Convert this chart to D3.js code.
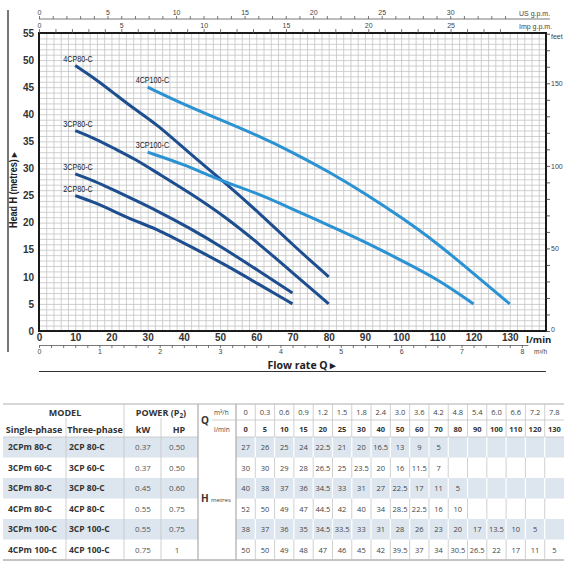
<!DOCTYPE html>
<html>
<head>
<meta charset="utf-8">
<script src="https://cdn.jsdelivr.net/npm/d3@7"></script>
<style>
  html, body { margin: 0; padding: 0; background: #fff; }
  svg { display: block; }
</style>
</head>
<body>
<svg id="chart" width="568" height="568"></svg>
<script>
// ---------------- DATA ----------------
const flowLmin = [0, 5, 10, 15, 20, 25, 30, 40, 50, 60, 70, 80, 90, 100, 110, 120, 130];
const flowM3h = ["0", "0.3", "0.6", "0.9", "1.2", "1.5", "1.8", "2.4", "3.0", "3.6", "4.2", "4.8", "5.4", "6.0", "6.6", "7.2", "7.8"];

const singlePhase = ["2CPm 80-C", "3CPm 60-C", "3CPm 80-C", "4CPm 80-C", "3CPm 100-C", "4CPm 100-C"];
const threePhase  = ["2CP 80-C", "3CP 60-C", "3CP 80-C", "4CP 80-C", "3CP 100-C", "4CP 100-C"];
const powerKW = ["0.37", "0.37", "0.45", "0.55", "0.55", "0.75"];
const powerHP = ["0.50", "0.50", "0.60", "0.75", "0.75", "1"];

const head2CP80  = [27, 26, 25, 24, 22.5, 21, 20, 16.5, 13, 9, 5];
const head3CP60  = [30, 30, 29, 28, 26.5, 25, 23.5, 20, 16, 11.5, 7];
const head3CP80  = [40, 38, 37, 36, 34.5, 33, 31, 27, 22.5, 17, 11, 5];
const head4CP80  = [52, 50, 49, 47, 44.5, 42, 40, 34, 28.5, 22.5, 16, 10];
const head3CP100 = [38, 37, 36, 35, 34.5, 33.5, 33, 31, 28, 26, 23, 20, 17, 13.5, 10, 5];
const head4CP100 = [50, 50, 49, 48, 47, 46, 45, 42, 39.5, 37, 34, 30.5, 26.5, 22, 17, 11, 5];
const headRows = [head2CP80, head3CP60, head3CP80, head4CP80, head3CP100, head4CP100];

const curveNames = ["2CP80-C", "3CP60-C", "3CP80-C", "4CP80-C", "3CP100-C", "4CP100-C"];
const curveFromQ = [10, 10, 10, 10, 30, 30];
const curveFamily = ["80", "80", "80", "80", "100", "100"];

const headTicks = [0, 5, 10, 15, 20, 25, 30, 35, 40, 45, 50, 55];
const flowTicks = [0, 10, 20, 30, 40, 50, 60, 70, 80, 90, 100, 110, 120, 130];
const m3hTicks = [0, 1, 2, 3, 4, 5, 6, 7, 8];
const usTicks = [0, 5, 10, 15, 20, 25, 30];
const impTicks = [0, 5, 10, 15, 20, 25];
const feetTicks = [0, 50, 100, 150];

// ---------------- SETUP ----------------
const svg = d3.select("#chart");
svg.append("rect").attr("width", 568).attr("height", 568).attr("fill", "#fff");

const NARROW = "'Liberation Sans Narrow','Arial Narrow','Liberation Sans',Arial,sans-serif";
const HUMAN = "'Open Sans','Noto Sans',sans-serif";

const x = d3.scaleLinear().domain([0, 140]).range([39, 546]);
const y = d3.scaleLinear().domain([0, 55]).range([331, 33]);
const plotW = x(140) - x(0), plotH = y(0) - y(55);

// grid
const gridX = svg.append("g").attr("transform", `translate(0,${y(0)})`)
  .call(d3.axisBottom(x).tickValues(d3.range(0, 141, 2)).tickSize(-plotH).tickFormat(""));
const gridY = svg.append("g").attr("transform", `translate(${x(0)},0)`)
  .call(d3.axisLeft(y).tickValues(d3.range(0, 56, 1)).tickSize(-plotW).tickFormat(""));
[gridX, gridY].forEach(g => {
  g.select(".domain").remove();
  g.selectAll("line").attr("stroke", "#c4c4c4").attr("stroke-width", 0.8);
});

// frame
svg.append("rect").attr("x", x(0)).attr("y", y(55)).attr("width", plotW).attr("height", plotH)
  .attr("fill", "none").attr("stroke", "#1a1a1a").attr("stroke-width", 2);

// left axis labels
const yAx = svg.append("g").attr("transform", `translate(${x(0)},0)`)
  .call(d3.axisLeft(y).tickValues(headTicks).tickSize(0).tickPadding(5));
yAx.select(".domain").remove();
yAx.selectAll("text").attr("font-family", NARROW).attr("font-size", 10).attr("font-weight", "bold").attr("fill", "#333");

// bottom l/min labels
const xAx = svg.append("g").attr("transform", `translate(0,${y(0)})`)
  .call(d3.axisBottom(x).tickValues(flowTicks).tickSize(0).tickPadding(3));
xAx.select(".domain").remove();
xAx.selectAll("text").attr("font-family", NARROW).attr("font-size", 10).attr("font-weight", "bold").attr("fill", "#333");
svg.append("text").attr("x", 526).attr("y", 343).text("l/min")
  .attr("font-family", HUMAN).attr("font-size", 9.5).attr("font-weight", "bold").attr("fill", "#222");

// m3/h axis
const LMIN_PER_M3H = 1000 / 60;
const xm = d3.scaleLinear().domain([0, 8.1]).range([x(0), x(8.1 * LMIN_PER_M3H)]);
const mAx = svg.append("g").attr("transform", "translate(0,345)")
  .call(d3.axisBottom(xm).tickValues(d3.range(0, 8.01, 0.2)).tickSize(3).tickSizeOuter(0).tickPadding(1)
    .tickFormat(d => m3hTicks.some(t => Math.abs(t - d) < 1e-6) ? d3.format("d")(Math.round(d)) : ""));
mAx.selectAll("line,path").attr("stroke", "#555").attr("stroke-width", 0.8);
mAx.selectAll("text").attr("font-family", NARROW).attr("font-size", 7).attr("fill", "#444");
svg.append("text").attr("x", 534).attr("y", 354).attr("font-family", NARROW).attr("font-size", 6.5).attr("fill", "#444").text("m³/h");

// top US gpm axis
const LMIN_PER_US = 3.785, LMIN_PER_IMP = 4.546;
const xu = d3.scaleLinear().domain([0, 35]).range([x(0), x(35 * LMIN_PER_US)]);
svg.append("line").attr("x1", x(0)).attr("x2", 550).attr("y1", 19).attr("y2", 19).attr("stroke", "#555").attr("stroke-width", 0.8);
const uAx = svg.append("g").attr("transform", "translate(0,19)")
  .call(d3.axisTop(xu).tickValues(d3.range(0, 35, 1)).tickSize(3).tickPadding(1)
    .tickFormat(d => usTicks.includes(d) ? d : ""));
uAx.select(".domain").remove();
uAx.selectAll("line").attr("stroke", "#555").attr("stroke-width", 0.8);
uAx.selectAll("text").attr("font-family", NARROW).attr("font-size", 7).attr("fill", "#444");
svg.append("text").attr("x", 519).attr("y", 16).attr("font-family", NARROW).attr("font-size", 7).attr("fill", "#444").text("US g.p.m.");

// top Imp gpm axis
const xi = d3.scaleLinear().domain([0, 29]).range([x(0), x(29 * LMIN_PER_IMP)]);
const iAx = svg.append("g").attr("transform", `translate(0,${y(55)})`)
  .call(d3.axisTop(xi).tickValues(d3.range(0, 29, 1)).tickSize(4).tickPadding(1)
    .tickFormat(d => impTicks.includes(d) ? d : ""));
iAx.select(".domain").remove();
iAx.selectAll("line").attr("stroke", "#555").attr("stroke-width", 0.8);
iAx.selectAll("text").attr("font-family", NARROW).attr("font-size", 7).attr("fill", "#444");
svg.append("text").attr("x", 519).attr("y", 29).attr("font-family", NARROW).attr("font-size", 7).attr("fill", "#444").text("Imp g.p.m.");

// right feet axis
const M_PER_FT = 0.3048;
const yf = d3.scaleLinear().domain([0, 180]).range([y(0), y(180 * M_PER_FT)]);
const fAx = svg.append("g").attr("transform", `translate(${x(140)},0)`)
  .call(d3.axisRight(yf).tickValues(d3.range(0, 181, 10)).tickSize(4).tickPadding(1)
    .tickFormat(d => feetTicks.includes(d) ? d : ""));
fAx.select(".domain").remove();
fAx.selectAll("line").attr("stroke", "#333").attr("stroke-width", 0.8);
fAx.selectAll("text").attr("font-family", NARROW).attr("font-size", 7).attr("fill", "#444");
fAx.selectAll(".tick").filter(d => d === 0).select("text").attr("dy", "0.1em");
svg.append("text").attr("x", 551).attr("y", 39).attr("font-family", NARROW).attr("font-size", 7).attr("fill", "#444").text("feet");

// left bar and head label
svg.append("line").attr("x1", 8).attr("x2", 8).attr("y1", 10).attr("y2", 352).attr("stroke", "#777").attr("stroke-width", 2);
svg.append("text").attr("transform", "translate(17,190) rotate(-90) scale(0.9,1)").attr("text-anchor", "middle")
  .attr("font-family", NARROW).attr("font-size", 10).attr("font-weight", "bold").attr("fill", "#222")
  .text("Head H  (metres) ▸");

// flow rate label and underline
svg.append("text").attr("x", 302).attr("y", 369).attr("text-anchor", "middle")
  .attr("font-family", HUMAN).attr("font-size", 10.5).attr("font-weight", "bold").attr("fill", "#222")
  .text("Flow rate  Q  ▸");
svg.append("line").attr("x1", x(0)).attr("x2", x(140)).attr("y1", 371.5).attr("y2", 371.5).attr("stroke", "#333").attr("stroke-width", 1);

// curves
const color = d3.scaleOrdinal().domain(["80", "100"]).range(["#1d4e8f", "#2b92d3"]);
const line = d3.line().x(d => x(d[0])).y(d => y(d[1])).curve(d3.curveBundle.beta(0.8));
headRows.forEach((row, i) => {
  const pts = row.map((h, j) => [flowLmin[j], h]).filter(p => p[0] >= curveFromQ[i]);
  svg.append("path").attr("d", line(pts)).attr("fill", "none")
    .attr("stroke", color(curveFamily[i])).attr("stroke-width", 3).attr("stroke-linecap", "butt");
  svg.append("text").attr("transform", `translate(${x(pts[0][0]) - 12},${y(pts[0][1]) - 4}) scale(0.8,1)`)
    .attr("font-family", NARROW).attr("font-size", 9).attr("fill", "#222").text(curveNames[i]);
});

// ---------------- TABLE ----------------
const tTop = 404, hMid = 420, hBot = 437, rowH = 20.5, tBot = hBot + rowH * 6;
const valX0 = 236, valX1 = 564;
const colX = d3.scaleBand().domain(d3.range(flowLmin.length)).range([valX0, valX1]);
const rowY = d3.scaleBand().domain(d3.range(singlePhase.length)).range([hBot, tBot]);
const shaded = i => i % 2 === 0;
const T = svg.append("g");

// shading
singlePhase.forEach((_, i) => {
  if (!shaded(i)) return;
  T.append("rect").attr("x", 3).attr("y", rowY(i)).attr("width", 198 - 3).attr("height", rowY.bandwidth()).attr("fill", "#dde6ee");
  T.append("rect").attr("x", valX0).attr("y", rowY(i)).attr("width", valX1 - valX0).attr("height", rowY.bandwidth()).attr("fill", "#dde6ee");
});

const gl = (x1, y1, x2, y2, c, w) => T.append("line").attr("x1", x1).attr("y1", y1).attr("x2", x2).attr("y2", y2)
  .attr("stroke", c || "#c4c4c4").attr("stroke-width", w || 0.8);
gl(3, tTop, valX1, tTop, "#9a9a9a", 0.8);
gl(3, tBot, valX1, tBot, "#8a8a8a", 1);
gl(3, hBot, 198, hBot, "#c4c4c4");
gl(valX0, hBot, valX1, hBot, "#c4c4c4");
gl(66, hMid - 2, 66, tBot);
gl(124, tTop, 124, tBot);
gl(161, hMid - 2, 161, tBot);
gl(198, tTop, 198, tBot, "#aaa", 1.2);
gl(valX0, tTop, valX0, tBot, "#aaa", 1.2);
gl(212, hMid, valX1, hMid);
d3.range(1, flowLmin.length).forEach(j => {
  gl(colX(j), tTop, colX(j), hBot);
  singlePhase.forEach((_, i) => {
    gl(colX(j), rowY(i), colX(j), rowY(i) + rowY.bandwidth(), shaded(i) ? "#fff" : "#c4c4c4", shaded(i) ? 1.2 : 0.8);
  });
});

const tt = (xx, yy, s, opt) => {
  const o = Object.assign({ size: 8.5, weight: "normal", anchor: "middle", fill: "#333" }, opt || {});
  return T.append("text").attr("x", xx).attr("y", yy).attr("font-family", HUMAN).attr("font-size", o.size)
    .attr("font-weight", o.weight).attr("text-anchor", o.anchor).attr("fill", o.fill).text(s);
};
// header
tt(65, 416, "MODEL", { size: 9, weight: "bold" });
tt(34, 433, "Single-phase", { size: 9, weight: "bold" });
tt(95, 433, "Three-phase", { size: 9, weight: "bold" });
const pw = tt(161, 416, "POWER (P", { size: 9, weight: "bold" });
pw.append("tspan").attr("font-size", 6.5).attr("dy", 1.5).text("2");
pw.append("tspan").attr("dy", -1.5).text(")");
tt(143, 433, "kW", { size: 9, weight: "bold" });
tt(179, 433, "HP", { size: 9, weight: "bold" });
tt(201, 424, "Q", { size: 10, weight: "bold", anchor: "start" });
tt(214, 415, "m³/h", { size: 6.5, anchor: "start", fill: "#444" });
tt(214, 432, "l/min", { size: 6.5, anchor: "start", fill: "#444" });
flowM3h.forEach((s, j) => tt(colX(j) + colX.bandwidth() / 2, 415, s, { size: 7.5, fill: "#444" }));
flowLmin.forEach((s, j) => tt(colX(j) + colX.bandwidth() / 2, 432, s, { size: 7.5, weight: "bold", fill: "#333" }));
// H metres
tt(201, 502, "H", { size: 10, weight: "bold", anchor: "start" });
tt(211, 502, "metres", { size: 6, anchor: "start", fill: "#444" });
// rows
singlePhase.forEach((s, i) => {
  const cy = rowY(i) + rowY.bandwidth() / 2 + 3;
  tt(8, cy, s, { size: 8.5, weight: "bold", anchor: "start" });
  tt(69, cy, threePhase[i], { size: 8.5, weight: "bold", anchor: "start" });
  tt(143, cy, powerKW[i], { size: 8, fill: "#555" });
  tt(177, cy, powerHP[i], { size: 8, fill: "#555" });
  headRows[i].forEach((h, j) => tt(colX(j) + colX.bandwidth() / 2, cy, h, { size: 7.5, fill: "#444" }));
});
</script>
</body>
</html>
